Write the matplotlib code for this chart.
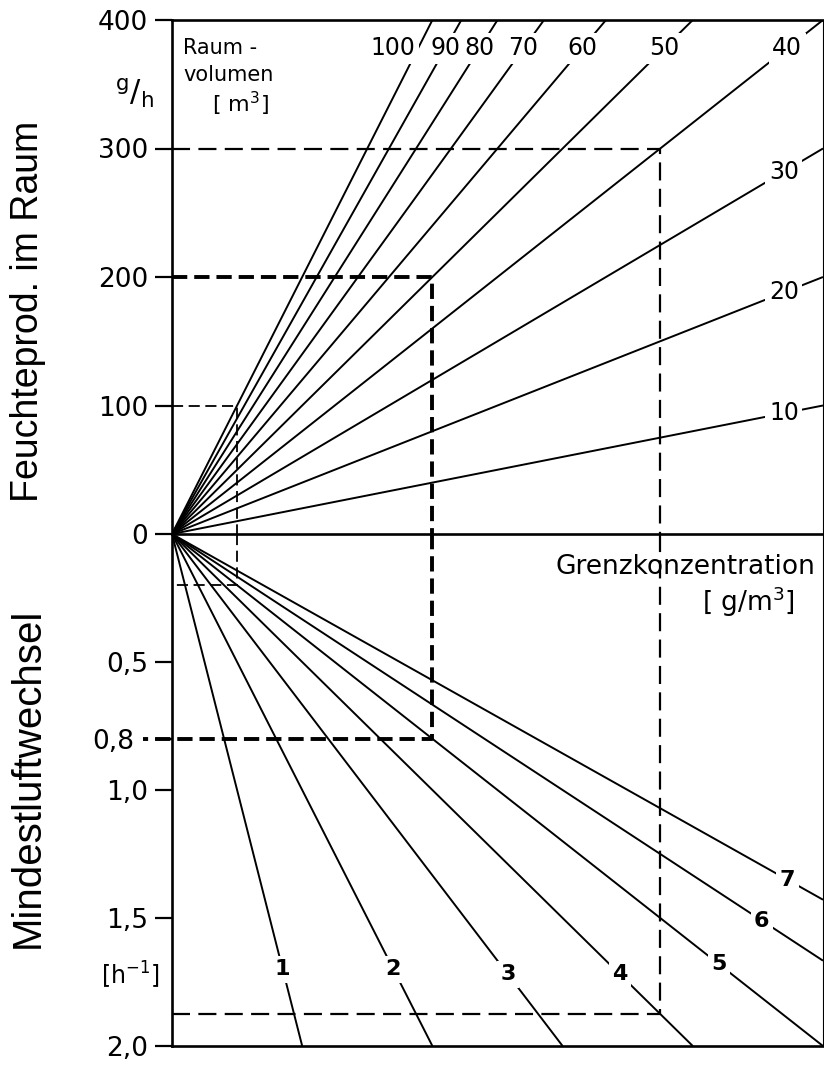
import numpy as np
import matplotlib
matplotlib.use('Agg')
import matplotlib.pyplot as plt
from matplotlib.transforms import ScaledTranslation

plt.rcParams['font.family'] = ['DejaVu Sans']
plt.rcParams['lines.scale_dashes'] = False

# Raumvolumen [m3]: Feuchteproduktion G = V * x
volumen = [10, 20, 30, 40, 50, 60, 70, 80, 90, 100]
# Grenzkonzentration [g/m3]: Luftwechsel n = x / c
konz = [1, 2, 3, 4, 5, 6, 7]

g_ticks = [0, 100, 200, 300, 400]
g_labels = ['0', '100', '200', '300', '400']
n_ticks = [0.5, 0.8, 1.0, 1.5, 2.0]
n_labels = ['0,5', '0,8', '1,0', '1,5', '2,0']

# Ablesebeispiele: (Raumvolumen, Feuchteproduktion, Grenzkonzentration)
bsp_vol = [100, 50, 40]
bsp_g = [100, 200, 300]
bsp_konz = [5, 5, 4]

# wo die Kurvenbeschriftungen sitzen
konz_lab_n = [1.70, 1.70, 1.72, 1.72, 1.68, 1.51, 1.35]

XMAX = 10.0
GMAX = 400.0
NMAX = 2.0

W, H = 824, 1065
fig = plt.figure(figsize=(W / 100, H / 100), dpi=100)

x0, x1 = 172, 823
y_top, y_zero, y_bot = 20, 534, 1046
ax_g = fig.add_axes([x0 / W, 1 - y_zero / H, (x1 - x0) / W, (y_zero - y_top) / H])
ax_n = fig.add_axes([x0 / W, 1 - y_bot / H, (x1 - x0) / W, (y_bot - y_zero) / H])

ax_g.set_xlim(0, XMAX)
ax_g.set_ylim(0, GMAX)
ax_n.set_xlim(0, XMAX)
ax_n.set_ylim(NMAX, 0)

for ax in (ax_g, ax_n):
    ax.patch.set_visible(False)
    ax.set_xticks([])
    ax.tick_params(axis='y', direction='out', length=12, width=1.6,
                   labelsize=19, pad=5)
    for s in ax.spines.values():
        s.set_linewidth(1.9)
        s.set_zorder(6)
    ax.spines['right'].set_linewidth(0.8)
ax_n.spines['top'].set_visible(False)

ax_g.set_yticks(g_ticks)
ax_g.set_yticklabels(g_labels)
ax_n.set_yticks(n_ticks)
ax_n.set_yticklabels(n_labels)
for lab in ax_n.get_yticklabels():
    if lab.get_text() == '0,8':
        lab.set_transform(lab.get_transform() +
                          ScaledTranslation(-10 / 72, 0, fig.dpi_scale_trans))

lw = 1.4
box = dict(facecolor='white', edgecolor='none', pad=2.5)

# Raumvolumen-Strahlen
for v in volumen:
    xe = min(XMAX, GMAX / v)
    ax_g.plot([0, xe], [0, v * xe], color='black', lw=lw, solid_capstyle='butt')
    if v >= 40:
        xl, gl = 378 / v, 378
    else:
        xl, gl = 9.4, 9.4 * v
    dx = -18 if v == 100 else 0
    ax_g.annotate(str(v), (xl, gl), xytext=(dx, 0), textcoords='offset points',
                  ha='center', va='center', fontsize=17, bbox=box, zorder=5)

# Grenzkonzentration-Strahlen
for c, nl in zip(konz, konz_lab_n):
    xe = min(XMAX, NMAX * c)
    ax_n.plot([0, xe], [0, xe / c], color='black', lw=lw, solid_capstyle='butt')
    ax_n.text(nl * c, nl, str(c), ha='center', va='center', fontsize=16,
              fontweight='bold', bbox=box, zorder=5)

# Ablesebeispiele (gestrichelt)
styles = [dict(lw=1.3, dashes=(8, 4), start=0.0),
          dict(lw=2.8, dashes=(11, 5), start=-0.45),
          dict(lw=1.6, dashes=(13, 6), start=0.0)]
for v, g, c, st in zip(bsp_vol, bsp_g, bsp_konz, styles):
    x = g / v
    n = x / c
    kw = dict(color='black', lw=st['lw'], dashes=st['dashes'], zorder=4,
              clip_on=False)
    ax_g.plot([0, x, x], [g, g, 0], **kw)
    ax_n.plot([x, x, st['start']], [0, n, n], **kw)

# Beschriftungen
fig.text(28 / W, 1 - 311 / H, 'Feuchteprod. im Raum', rotation=90,
         ha='center', va='center', fontsize=27, family='Liberation Sans')
fig.text(28 / W, 1 - 778 / H, 'Mindestluftwechsel', rotation=90,
         ha='center', va='center', fontsize=29, family='Liberation Sans')
fig.text(135 / W, 1 - 93 / H, r'$\mathregular{^{g}/_{h}}$', ha='center',
         va='center', fontsize=22)
fig.text(130 / W, 1 - 975 / H, r'$\mathregular{[h^{-1}]}$', ha='center',
         va='center', fontsize=17)
fig.text(183 / W, 1 - 48 / H, 'Raum -', ha='left', va='center', fontsize=15)
fig.text(183 / W, 1 - 75 / H, 'volumen', ha='left', va='center', fontsize=15)
fig.text(240 / W, 1 - 104 / H, r'[ m$\mathregular{^3}$]', ha='center',
         va='center', fontsize=16)
fig.text(815 / W, 1 - 567 / H, 'Grenzkonzentration', ha='right',
         va='center', fontsize=19)
fig.text(748 / W, 1 - 602 / H, r'[ g/m$\mathregular{^3}$]', ha='center',
         va='center', fontsize=19)

fig.savefig('out.png', dpi=100, facecolor='white')
